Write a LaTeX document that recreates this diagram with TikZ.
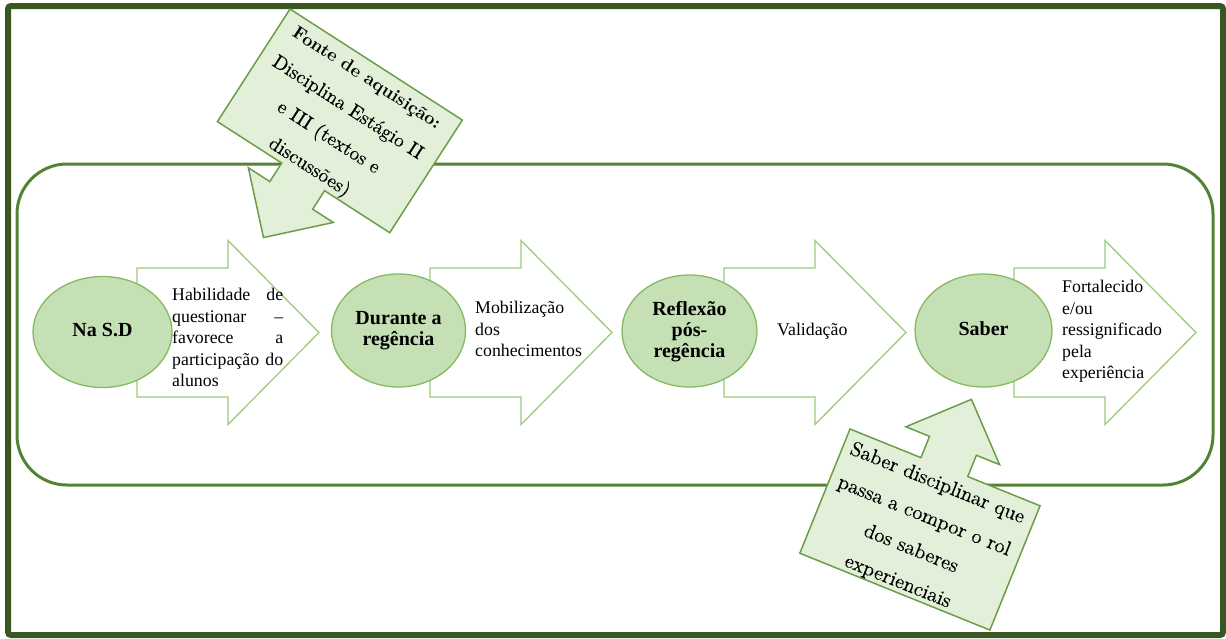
\documentclass[tikz,border=0pt]{standalone}
\usepackage{fontspec}
\usetikzlibrary{shapes.geometric}
\newfontfamily\timesfont{Liberation Serif}
\newfontfamily\callfont{lmroman10-regular.otf}[UprightFeatures={FakeBold=0.25}, BoldFont=lmroman10-bold.otf, BoldFeatures={FakeBold=0}]
\definecolor{framegreen}{HTML}{385723}
\definecolor{panelgreen}{HTML}{548235}
\definecolor{arrowgreen}{HTML}{9DCB7E}
\definecolor{stageborder}{HTML}{86BA62}
\definecolor{stagefill}{HTML}{C5E0B4}
\definecolor{calloutborder}{HTML}{6C9D48}
\definecolor{calloutfill}{HTML}{E2F0D9}
\tikzset{
  frame/.style={draw=framegreen, line width=6pt, rounded corners=3pt},
  panel/.style={draw=panelgreen, line width=3pt, rounded corners=50pt},
  arrowline/.style={draw=arrowgreen, fill=white, line width=1.3pt, line join=miter},
  stage/.style={ellipse, draw=stageborder, fill=stagefill, line width=1.3pt, inner sep=0pt},
  stagetext/.style={font=\timesfont\bfseries\fontsize{20}{21}\selectfont, align=center, inner sep=0pt},
  desc/.style={font=\timesfont\fontsize{17.8}{21.5}\selectfont, align=left, inner sep=0pt},
  callout/.style={draw=calloutborder, fill=calloutfill, line width=1.5pt, line join=miter},
  callouttext/.style={font=\callfont\fontsize{19.5}{35.3}\selectfont, align=center, inner sep=0pt},
  blockarrow/.pic={
    \path[arrowline] (0,-64.5) -- (91,-64.5) -- (91,-92) -- (182,0)
      -- (91,92) -- (91,64.5) -- (0,64.5) -- cycle;
  }
}
\begin{document}
\begin{tikzpicture}[x=1pt,y=-1pt]
\useasboundingbox (0,0) rectangle (1226,638);

% outer frame and inner panel
\draw[frame] (8,6) rectangle (1223,635);
\draw[panel] (17,164) rectangle (1213,485);

% block arrows carrying the descriptions
\pic (arr1) at (137,332.5) {blockarrow};
\pic (arr2) at (430,332.5) {blockarrow};
\pic (arr3) at (724,332.5) {blockarrow};
\pic (arr4) at (1014,332.5) {blockarrow};

% stages
\node[stage, minimum width=139pt, minimum height=111pt] (s1) at (102.5,332) {};
\node[stage, minimum width=134pt, minimum height=113pt] (s2) at (398.5,330.5) {};
\node[stage, minimum width=135pt, minimum height=112pt] (s3) at (689.5,331) {};
\node[stage, minimum width=137pt, minimum height=113pt] (s4) at (983.5,330.5) {};

\node[stagetext, anchor=base] (t1) at (102.5,336) {Na S.D};
\node[stagetext, anchor=north] (t2) at (398.5,311.5) {Durante a\\regência};
\node[stagetext, anchor=north] (t3) at (689.5,301.5) {Reflexão\\pós-\\regência};
\node[stagetext, anchor=base] (t4) at (983.5,335.5) {Saber};

% descriptions
\node[desc, text width=111pt, anchor=north west] (d1) at (172,288)
  {Habilidade\hfill de\\questionar\hfill –\\favorece\hfill a\\participação\hfill do\\alunos};
\node[desc, anchor=north west] (d2) at (475,301) {Mobilização\\dos\\conhecimentos};
\node[desc, anchor=base west] (d3) at (777,335) {Validação};
\node[desc, anchor=north west] (d4) at (1062,280) {Fortalecido\\e/ou\\ressignificado\\pela\\experiência};

% callout pointing down into the first stage
\begin{scope}[shift={(290,9)}, rotate=-32.8]
  \path[callout] (0,0) -- (205,0) -- (205,134) -- (127.5,134) -- (127.5,156)
    -- (152,156) -- (101.5,206.5) -- (51,156) -- (76.5,156) -- (76.5,134)
    -- (0,134) -- cycle;
  \node[callouttext, rotate=-32.8] (c1) at (102,71)
    {{\fontsize{18}{35.3}\selectfont\bfseries Fonte de aquisição:}\\Disciplina Estágio II\\e III (textos e\\discussões)};
\end{scope}

% callout pointing up into the last stage
\begin{scope}[shift={(850,429)}, rotate=-22]
  \path[callout] (0,0) -- (76.5,0) -- (76.5,-23) -- (51,-23) -- (101.5,-73)
    -- (152,-23) -- (127,-23) -- (127,0) -- (205,0) -- (205,134) -- (0,134) -- cycle;
  \node[callouttext, font=\callfont\fontsize{20.3}{35.3}\selectfont, rotate=-22] (c2) at (101.5,71)
    {Saber disciplinar que\\passa a compor o rol\\dos saberes\\experienciais};
\end{scope}
\end{tikzpicture}
\end{document}
